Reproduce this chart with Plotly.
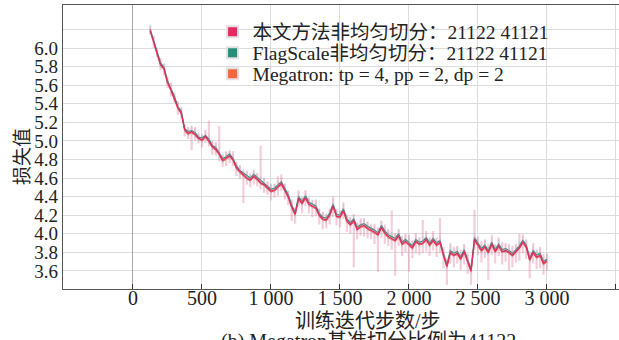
import plotly.graph_objects as go

# ---------------- data ----------------
steps = list(range(125, 3001, 25))

loss_ours = [
    6.19, 6.07, 5.95, 5.82, 5.78, 5.63, 5.55, 5.46, 5.36, 5.30,
    5.12, 5.08, 5.10, 5.07, 5.03, 5.01, 5.05, 5.00, 4.94, 4.91,
    4.86, 4.79, 4.82, 4.84, 4.80, 4.71, 4.67, 4.63, 4.60, 4.58,
    4.62, 4.59, 4.55, 4.53, 4.50, 4.46, 4.47, 4.50, 4.54, 4.47,
    4.40, 4.29, 4.21, 4.38, 4.33, 4.39, 4.32, 4.30, 4.28, 4.20,
    4.16, 4.15, 4.20, 4.30, 4.19, 4.18, 4.25, 4.14, 4.10, 4.14,
    4.05, 4.08, 4.09, 4.06, 4.04, 4.02, 3.99, 4.07, 4.01, 3.97,
    3.95, 3.93, 3.98, 3.89, 3.92, 3.89, 3.85, 3.92, 3.89, 3.90,
    3.94, 3.88, 3.93, 3.88, 3.91, 3.77, 3.65, 3.80, 3.77, 3.79,
    3.73, 3.81, 3.70, 3.60, 3.94, 3.88, 3.82, 3.86, 3.80, 3.89,
    3.81, 3.87, 3.81, 3.82, 3.80, 3.77, 3.81, 3.85, 3.91, 3.86,
    3.72, 3.80, 3.75, 3.77, 3.68, 3.71,
]

loss_flagscale = [
    6.20, 6.08, 5.96, 5.84, 5.79, 5.65, 5.56, 5.48, 5.37, 5.32,
    5.13, 5.10, 5.11, 5.09, 5.04, 5.03, 5.06, 5.02, 4.95, 4.93,
    4.87, 4.81, 4.83, 4.86, 4.81, 4.73, 4.68, 4.65, 4.62, 4.60,
    4.64, 4.61, 4.57, 4.55, 4.52, 4.48, 4.49, 4.52, 4.56, 4.49,
    4.42, 4.31, 4.23, 4.40, 4.35, 4.41, 4.34, 4.32, 4.30, 4.22,
    4.18, 4.17, 4.22, 4.32, 4.21, 4.20, 4.27, 4.16, 4.12, 4.16,
    4.07, 4.10, 4.11, 4.08, 4.06, 4.04, 4.01, 4.09, 4.03, 3.99,
    3.97, 3.95, 4.00, 3.91, 3.94, 3.91, 3.87, 3.94, 3.91, 3.92,
    3.96, 3.90, 3.95, 3.90, 3.93, 3.79, 3.67, 3.82, 3.79, 3.81,
    3.75, 3.83, 3.72, 3.62, 3.96, 3.90, 3.84, 3.88, 3.82, 3.91,
    3.83, 3.89, 3.83, 3.84, 3.82, 3.79, 3.83, 3.87, 3.93, 3.88,
    3.74, 3.82, 3.77, 3.79, 3.70, 3.73,
]

loss_megatron = [
    6.18, 6.06, 5.94, 5.81, 5.77, 5.62, 5.54, 5.45, 5.35, 5.29,
    5.11, 5.07, 5.09, 5.06, 5.02, 5.00, 5.04, 4.99, 4.93, 4.90,
    4.85, 4.78, 4.81, 4.83, 4.79, 4.70, 4.66, 4.62, 4.59, 4.57,
    4.61, 4.58, 4.54, 4.52, 4.49, 4.45, 4.46, 4.49, 4.53, 4.46,
    4.39, 4.28, 4.20, 4.37, 4.32, 4.38, 4.31, 4.29, 4.27, 4.19,
    4.15, 4.14, 4.19, 4.29, 4.18, 4.17, 4.24, 4.13, 4.09, 4.13,
    4.04, 4.07, 4.08, 4.05, 4.03, 4.01, 3.98, 4.06, 4.00, 3.96,
    3.94, 3.92, 3.97, 3.88, 3.91, 3.88, 3.84, 3.91, 3.88, 3.89,
    3.93, 3.87, 3.92, 3.87, 3.90, 3.76, 3.64, 3.79, 3.76, 3.78,
    3.72, 3.80, 3.69, 3.59, 3.93, 3.87, 3.81, 3.85, 3.79, 3.88,
    3.80, 3.86, 3.80, 3.81, 3.79, 3.76, 3.80, 3.84, 3.90, 3.85,
    3.71, 3.79, 3.74, 3.76, 3.67, 3.70,
]

# raw-noise spread around "ours" (up / down)
ours_spread_up = [
    0.05, 0.06, 0.04, 0.07, 0.05, 0.06, 0.08, 0.05, 0.07, 0.06,
    0.05, 0.07, 0.06, 0.08, 0.05, 0.06, 0.07, 0.22, 0.06, 0.08,
    0.30, 0.06, 0.07, 0.05, 0.09, 0.06, 0.07, 0.05, 0.08, 0.06,
    0.07, 0.06, 0.40, 0.07, 0.06, 0.08, 0.07, 0.12, 0.10, 0.07,
    0.06, 0.08, 0.07, 0.09, 0.06, 0.08, 0.07, 0.06, 0.09, 0.07,
    0.08, 0.06, 0.07, 0.10, 0.08, 0.07, 0.09, 0.06, 0.08, 0.07,
    0.07, 0.09, 0.08, 0.07, 0.06, 0.09, 0.08, 0.07, 0.09, 0.08,
    0.30, 0.08, 0.07, 0.09, 0.08, 0.10, 0.08, 0.09, 0.07, 0.25,
    0.09, 0.08, 0.10, 0.08, 0.26, 0.09, 0.08, 0.10, 0.09, 0.08,
    0.10, 0.08, 0.09, 0.08, 0.32, 0.09, 0.10, 0.08, 0.09, 0.10,
    0.08, 0.09, 0.10, 0.08, 0.09, 0.10, 0.08, 0.15, 0.09, 0.08,
    0.09, 0.10, 0.08, 0.09, 0.10, 0.08,
]
ours_spread_down = [
    0.05, 0.07, 0.05, 0.06, 0.08, 0.06, 0.07, 0.05, 0.08, 0.06,
    0.07, 0.06, 0.20, 0.07, 0.06, 0.08, 0.07, 0.06, 0.09, 0.07,
    0.08, 0.07, 0.09, 0.08, 0.07, 0.09, 0.08, 0.30, 0.07, 0.08,
    0.09, 0.08, 0.07, 0.09, 0.08, 0.10, 0.08, 0.09, 0.08, 0.10,
    0.09, 0.15, 0.10, 0.09, 0.11, 0.09, 0.10, 0.12, 0.09, 0.10,
    0.11, 0.09, 0.10, 0.12, 0.10, 0.11, 0.09, 0.12, 0.10, 0.50,
    0.11, 0.10, 0.12, 0.11, 0.10, 0.13, 0.40, 0.11, 0.12, 0.10,
    0.12, 0.38, 0.11, 0.13, 0.12, 0.30, 0.11, 0.13, 0.12, 0.11,
    0.13, 0.12, 0.11, 0.13, 0.12, 0.14, 0.20, 0.12, 0.13, 0.11,
    0.12, 0.14, 0.13, 0.15, 0.12, 0.11, 0.13, 0.12, 0.30, 0.12,
    0.13, 0.11, 0.14, 0.12, 0.20, 0.13, 0.12, 0.14, 0.12, 0.13,
    0.20, 0.12, 0.13, 0.14, 0.12, 0.11,
]

names = ["本文方法非均匀切分：21122 41121",
         "FlagScale非均匀切分：21122 41121",
         "Megatron: tp = 4, pp = 2, dp = 2"]
colors = ["#DE2D62", "#2A8C78", "#F2683C"]

x_tickvals = [0, 500, 1000, 1500, 2000, 2500, 3000, 3500]
x_ticktext = ["0", "500", "1 000", "1 500", "2 000", "2 500", "3 000", ""]
y_tickvals = [3.6, 3.8, 4.0, 4.2, 4.4, 4.6, 4.8, 5.0, 5.2, 5.4, 5.6, 5.8, 6.0, 6.2]
y_ticktext = ["3.6", "3.8", "4.0", "4.2", "4.4", "4.6", "4.8", "5.0", "5.2",
              "5.4", "5.6", "5.8", "6.0", ""]

FONT = "Liberation Serif, Times New Roman, Noto Sans CJK SC, serif"

fig = go.Figure()

# Megatron (bottom)
fig.add_trace(go.Scatter(
    x=steps, y=loss_megatron, mode="lines", showlegend=False,
    line=dict(color=colors[2], width=1.2)))
# FlagScale
fig.add_trace(go.Scatter(
    x=steps, y=loss_flagscale, mode="lines", showlegend=False,
    line=dict(color=colors[1], width=1.3),
    error_y=dict(type="constant", value=0.05, color="rgba(150,215,215,0.40)",
                 thickness=1.5, width=0)))
# Ours (top)
fig.add_trace(go.Scatter(
    x=steps, y=loss_ours, mode="lines", showlegend=False,
    line=dict(color=colors[0], width=1.3),
    error_y=dict(type="data", symmetric=False, array=ours_spread_up,
                 arrayminus=ours_spread_down, color="rgba(232,130,165,0.40)",
                 thickness=2.2, width=0)))

# legend entries (square swatches), one legend per row for exact spacing
legend_ids = ["legend", "legend2", "legend3"]
for nm, c, lg in zip(names, colors, legend_ids):
    fig.add_trace(go.Scatter(
        x=[None], y=[None], mode="markers", name=nm, legend=lg,
        marker=dict(symbol="square", size=11, color=c,
                    line=dict(color="#e2e2e2", width=2))))

leg_common = dict(xanchor="left", yanchor="middle", bgcolor="rgba(0,0,0,0)",
                  font=dict(family=FONT, size=19.5, color="#222"),
                  itemwidth=30, borderwidth=0)

LX = 0.269
fig.update_layout(
    width=619, height=340,
    margin=dict(l=63, r=0, t=5, b=51),
    paper_bgcolor="white", plot_bgcolor="white",
    font=dict(family=FONT, size=20, color="#222"),
    legend=dict(x=LX, y=1 - (32 - 5) / 284, **leg_common),
    legend2=dict(x=LX, y=1 - (53 - 5) / 284, **leg_common),
    legend3=dict(x=LX, y=1 - (74 - 5) / 284, **leg_common),
    xaxis=dict(range=[-507, 3522], tickvals=x_tickvals, ticktext=x_ticktext,
               automargin=False,
               showgrid=True, gridcolor="#dcdcdc", gridwidth=1,
               zeroline=True, zerolinecolor="#a8a8a8", zerolinewidth=1,
               showline=True, linecolor="#555", linewidth=1.3, mirror=True,
               ticks="inside", ticklen=5, tickwidth=1.3, tickcolor="#333",
               ticklabelstandoff=-9,
               tickfont=dict(family=FONT, size=20)),
    yaxis=dict(range=[3.406, 6.463], tickvals=y_tickvals, ticktext=y_ticktext,
               automargin=False,
               showgrid=True, gridcolor="#dcdcdc", gridwidth=1, zeroline=False,
               showline=True, linecolor="#555", linewidth=1.3,
               ticks="", tickfont=dict(family=FONT, size=19)),
    annotations=[
        dict(text="损失值", xref="paper", yref="paper", x=-0.0737,
             y=1 - (157 - 5) / 284,
             xanchor="center", yanchor="middle", textangle=-90, showarrow=False,
             font=dict(family=FONT, size=19)),
        dict(text="训练迭代步数/步", xref="paper", yref="paper", x=0.5486,
             y=1 - (321 - 5) / 284,
             xanchor="center", yanchor="middle", showarrow=False,
             font=dict(family=FONT, size=20)),
        dict(text="(b) Megatron基准切分比例为41122", xref="paper", yref="paper",
             x=0.5486, y=1 - (341 - 5) / 284, xanchor="center", yanchor="middle",
             showarrow=False, font=dict(family=FONT, size=20)),
    ],
)

fig.write_html(
    "out.html",
    config={"displayModeBar": False},
    post_script="document.body.style.margin='0';document.body.style.padding='0';"
                "document.documentElement.style.overflow='hidden';",
)
